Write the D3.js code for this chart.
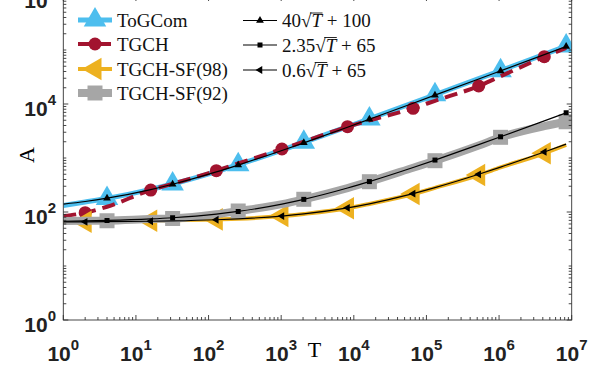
<!DOCTYPE html>
<html>
<head>
<meta charset="utf-8">
<script src="https://cdn.jsdelivr.net/npm/d3@7"></script>
<style>
body { margin: 0; background: #fff; }
svg { display: block; }
</style>
</head>
<body>
<svg width="598" height="382"></svg>
<script>
// sample points (T) shared by every curve
var T = [1, 2, 4, 16, 32, 128, 256, 1024, 2048, 8192, 16384, 65536, 131072, 524288, 1048576, 4194304, 8388608];
// marker positions
var markA = [4, 32, 256, 2048, 16384, 131072, 1048576, 8388608];
var markB = [2, 16, 128, 1024, 8192, 65536, 524288, 4194304];

var togcom   = [132, 153, 178, 262, 330, 560, 750, 1400, 1950, 3800, 5300, 10500, 14800, 29500, 41500, 83000, 118000];
var tgch     = [84, 97, 125, 255, 333, 582, 791, 1468, 2005, 3800, 4970, 8330, 11460, 21540, 32700, 75100, 109000];
var tgchSF98 = [65, 66, 66.5, 69, 70, 73, 75, 84, 92, 117, 141, 215, 280, 484, 670, 1222, 1740];
var tgchSF92 = [68, 68.5, 69, 74, 76, 91, 104, 140, 172, 277, 364, 660, 891, 1700, 2417, 3900, 4700];

var fit1 = [140, 156.6, 180, 260, 326.3, 552.5, 740, 1380, 1910, 3720, 5220, 10340, 14580, 29060, 41060, 82020, 115950];
var fit2 = [67.4, 68.3, 69.7, 74.4, 78.3, 91.6, 102.6, 140.2, 171.3, 277.7, 365.8, 666.6, 915.8, 1767, 2471, 4878, 6871];
var fit3 = [65.6, 65.8, 66.2, 67.4, 68.4, 71.8, 74.6, 84.2, 92.2, 119.3, 141.8, 218.6, 282.2, 499.4, 679.4, 1294, 1803];

var xTicks = [1, 10, 100, 1e3, 1e4, 1e5, 1e6, 1e7];
var yTicks = [1, 100, 1e4, 1e6];

var dataNames = ["ToGCom", "TGCH", "TGCH-SF(98)", "TGCH-SF(92)"];
var fitNames = [["40", " + 100"], ["2.35", " + 65"], ["0.6", " + 65"]];

svg = d3.select("svg");

var pLeft = 63.3, pRight = 571.7, pBottom = 320, pTop = -4;

x = d3.scaleLog().domain([1, 1e7]).range([pLeft, pRight]);
y = d3.scaleLog().domain([1, 1e6]).range([pBottom, pTop]);

// marker shapes
function triUp(r) { return "M0," + (-r) + "L" + (0.866 * r) + "," + (r / 2) + "L" + (-0.866 * r) + "," + (r / 2) + "Z"; }
function triLeft(r) { return "M" + (-r) + ",0L" + (r / 2) + "," + (-0.866 * r) + "L" + (r / 2) + "," + (0.866 * r) + "Z"; }
function square(s) { return "M" + (-s / 2) + "," + (-s / 2) + "h" + s + "v" + s + "h" + (-s) + "Z"; }
function circle(r) { return "M" + (-r) + ",0A" + r + "," + r + " 0 1,0 " + r + ",0A" + r + "," + r + " 0 1,0 " + (-r) + ",0Z"; }

var series = [
	{ vals: togcom,   color: "#4DBEEE", width: 5,   dash: null,   shape: triUp(13),   marks: markA },
	{ vals: tgch,     color: "#A2142F", width: 4,   dash: "13,7", shape: circle(6.5), marks: markB },
	{ vals: tgchSF98, color: "#EDB120", width: 4,   dash: null,   shape: triLeft(13), marks: markB },
	{ vals: tgchSF92, color: "#A6A6A6", width: 8,   dash: null,   shape: square(15),  marks: markA },
	{ vals: fit1,     color: "#000",    width: 1.2, dash: null,   shape: triUp(4.5),  marks: markA },
	{ vals: fit2,     color: "#000",    width: 1.2, dash: null,   shape: square(5),   marks: markA },
	{ vals: fit3,     color: "#000",    width: 1.2, dash: null,   shape: triLeft(4.5), marks: markB }
];

svg.append("defs").append("clipPath").attr("id", "plotclip")
	.append("rect").attr("x", pLeft).attr("y", pTop).attr("width", pRight - pLeft).attr("height", pBottom - pTop);

var plot = svg.append("g").attr("clip-path", "url(#plotclip)");

var line = d3.line()
	.x(function(d) { return x(d[0]); })
	.y(function(d) { return y(d[1]); })
	.curve(d3.curveMonotoneX);

series.forEach(function(s) {
	var pts = T.map(function(t, i) { return [t, s.vals[i]]; });
	var g = plot.append("g");
	g.append("path")
		.attr("d", line(pts))
		.attr("fill", "none")
		.attr("stroke", s.color)
		.attr("stroke-width", s.width)
		.attr("stroke-dasharray", s.dash);
	g.selectAll("path.m")
		.data(pts.filter(function(p) { return s.marks.indexOf(p[0]) >= 0; }))
		.enter().append("path")
		.attr("class", "m")
		.attr("transform", function(d) { return "translate(" + [x(d[0]), y(d[1])] + ")"; })
		.attr("d", s.shape)
		.attr("fill", s.color);
});

// axes box and ticks
var axisColor = "#333";
var ax = svg.append("g");
ax.append("rect")
	.attr("x", pLeft).attr("y", pTop).attr("width", pRight - pLeft).attr("height", pBottom - pTop)
	.attr("fill", "none").attr("stroke", axisColor).attr("stroke-width", 0.9);

function logTicks(lo, hi) {
	var out = [];
	for (var e = lo; e < hi; e++) {
		for (var m = 1; m < 10; m++) out.push({ v: m * Math.pow(10, e), major: m === 1 });
	}
	out.push({ v: Math.pow(10, hi), major: true });
	return out;
}

logTicks(0, 7).forEach(function(t) {
	var len = t.major ? 5 : 3, px = x(t.v);
	ax.append("line").attr("x1", px).attr("x2", px).attr("y1", pBottom).attr("y2", pBottom - len)
		.attr("stroke", axisColor).attr("stroke-width", 0.9);
	ax.append("line").attr("x1", px).attr("x2", px).attr("y1", pTop).attr("y2", pTop + len)
		.attr("stroke", axisColor).attr("stroke-width", 0.9);
});
logTicks(0, 6).forEach(function(t) {
	var major = yTicks.indexOf(t.v) >= 0;
	var len = major ? 5 : 3, py = y(t.v);
	ax.append("line").attr("y1", py).attr("y2", py).attr("x1", pLeft).attr("x2", pLeft + len)
		.attr("stroke", axisColor).attr("stroke-width", 0.9);
	ax.append("line").attr("y1", py).attr("y2", py).attr("x1", pRight).attr("x2", pRight - len)
		.attr("stroke", axisColor).attr("stroke-width", 0.9);
});

// tick labels
var lab = svg.append("g")
	.attr("font-family", "Liberation Sans, Arial, sans-serif")
	.attr("font-weight", "bold")
	.attr("fill", "#222");

xTicks.forEach(function(v) {
	var t = lab.append("text")
		.attr("x", x(v)).attr("y", 361)
		.attr("text-anchor", "middle")
		.attr("font-size", 21);
	t.append("tspan").text("10");
	t.append("tspan").attr("dy", -11).attr("font-size", 15).text(Math.round(Math.log10(v)));
});
yTicks.forEach(function(v) {
	var t = lab.append("text")
		.attr("x", 56).attr("y", y(v) + 12)
		.attr("text-anchor", "end")
		.attr("font-size", 21);
	t.append("tspan").text("10");
	t.append("tspan").attr("dy", -11).attr("font-size", 15).text(Math.round(Math.log10(v)));
});

// axis titles
var serif = "Liberation Serif, Times New Roman, serif";
svg.append("text")
	.attr("x", 314.5).attr("y", 357)
	.attr("text-anchor", "middle")
	.attr("font-family", serif).attr("font-size", 22)
	.text("T");
svg.append("text")
	.attr("transform", "translate(34,155) rotate(-90)")
	.attr("text-anchor", "middle")
	.attr("font-family", serif).attr("font-size", 22)
	.text("A");

// legend
var legend = svg.append("g").attr("font-family", serif).attr("font-size", 19).attr("fill", "#111");
var rowsL = [20, 44, 69, 93];
dataNames.forEach(function(name, i) {
	var s = series[i], g = legend.append("g").attr("transform", "translate(0," + rowsL[i] + ")");
	g.append("path").attr("d", "M78,0H112")
		.attr("stroke", s.color).attr("stroke-width", s.width).attr("stroke-dasharray", s.dash);
	g.append("path").attr("transform", "translate(95,0)").attr("d", s.shape).attr("fill", s.color);
	g.append("text").attr("x", 117).attr("y", 6.5).text(name);
});

var rowsR = [20.5, 45, 70];
fitNames.forEach(function(parts, i) {
	var s = series[4 + i], g = legend.append("g").attr("transform", "translate(0," + rowsR[i] + ")");
	g.append("path").attr("d", "M243,0H277").attr("stroke", "#000").attr("stroke-width", 1.2);
	g.append("path").attr("transform", "translate(260,0)").attr("d", s.shape).attr("fill", "#000");
	var t = g.append("text").attr("x", 282).attr("y", 6.5);
	t.append("tspan").text(parts[0]);
	t.append("tspan").text("\u221A");
	t.append("tspan").attr("font-style", "italic").text("T");
	t.append("tspan").text(parts[1]);
	// overbar of the square root
	var node = t.node(), k = parts[0].length;
	var a = node.getEndPositionOfChar(k).x - 1.5, b = node.getEndPositionOfChar(k + 1).x + 0.5;
	g.append("line").attr("x1", a).attr("x2", b).attr("y1", -7.5).attr("y2", -7.5)
		.attr("stroke", "#111").attr("stroke-width", 0.9);
});
</script>
</body>
</html>
